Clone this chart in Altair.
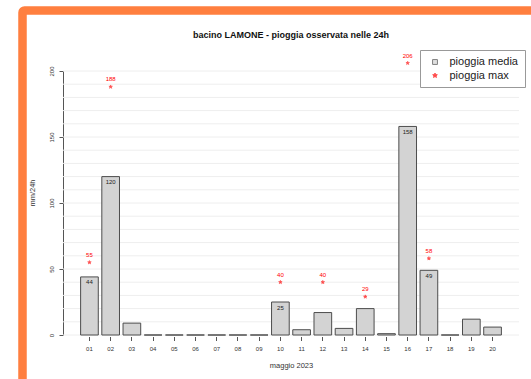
import altair as alt
import pandas as pd

# Daily rainfall for the Lamone basin, May 2023
giorni = ["01", "02", "03", "04", "05", "06", "07", "08", "09", "10",
          "11", "12", "13", "14", "15", "16", "17", "18", "19", "20"]
pioggia_media = [44, 120, 9, 0, 0, 0, 0, 0, 0, 25, 4, 17, 5, 20, 1, 158, 49, 0, 12, 6]
pioggia_max = [55, 188, None, None, None, None, None, None, None, 40,
               None, 40, None, 29, None, 206, 58, None, None, None]
serie = ["pioggia media", "pioggia max"]
y_ticks = [0, 50, 100, 150, 200]
grid_levels = [0, 10, 20, 30, 40, 50, 60, 70, 80, 90, 100, 110, 120, 130, 140,
               150, 160, 170, 180, 190, 200]

FONT = "Liberation Sans"
STAR = ("M0,-1L0.235,-0.324L0.951,-0.309L0.38,0.124L0.588,0.809L0,0.4"
        "L-0.588,0.809L-0.38,0.124L-0.951,-0.309L-0.235,-0.324Z")

df_media = pd.DataFrame({"giorno": giorni, "valore": pioggia_media, "serie": serie[0]})
df_max = pd.DataFrame({"giorno": giorni, "valore": pioggia_max, "serie": serie[1]}).dropna()
df_grid = pd.DataFrame({"valore": grid_levels})

yscale = alt.Scale(domain=[0, 200], nice=False, zero=True)
yaxis = alt.Axis(
    values=y_ticks, grid=False, tickSize=4, tickColor="#555", domainColor="#555",
    labelAngle=270, labelAlign="center", labelBaseline="bottom", labelPadding=5,
    labelFontSize=6, labelColor="#333", labelFont=FONT,
    title="mm/24h", titleFontSize=7.5, titleFontWeight="normal", titleColor="#333",
    titleFont=FONT, titleAngle=270, titleX=-31, titleY=121.5,
    titleBaseline="middle", titleAlign="center",
)
xscale = alt.Scale(paddingInner=0.167, paddingOuter=0.83)
xaxis = alt.Axis(
    domain=False, tickSize=4, tickColor="#555", offset=1.5, labelAngle=0,
    labelFontSize=6, labelColor="#333", labelFont=FONT, labelPadding=4.5,
    title="maggio 2023", titleFontSize=7.5, titleFontWeight="normal",
    titleColor="#333", titleFont=FONT, titlePadding=10,
)


def x_enc():
    return alt.X("giorno:N", scale=xscale, axis=xaxis, sort=giorni)


def y_enc():
    return alt.Y("valore:Q", scale=yscale, axis=yaxis)


legenda = alt.Legend(
    orient="none", legendX=357, legendY=-21, fillColor="white", strokeColor="#999",
    padding=6.5, labelFont=FONT, labelFontSize=11, labelColor="#222",
    symbolSize=24, symbolStrokeWidth=1, labelOffset=9, rowPadding=1.5, symbolOffset=3,
)
colore = alt.Color("serie:N", scale=alt.Scale(domain=serie, range=["#d3d3d3", "#ff0000"]),
                   legend=legenda, title=None)
bordo = alt.Stroke("serie:N", scale=alt.Scale(domain=serie, range=["#4d4d4d", "#ff0000"]),
                   legend=legenda, title=None)
forma = alt.Shape("serie:N", scale=alt.Scale(domain=serie, range=["square", STAR]),
                  legend=legenda, title=None)

# orange frame around the whole figure
cornice = alt.Chart(pd.DataFrame({"k": [0]})).mark_rect(
    filled=False, stroke="#ff7f3f", strokeWidth=8.5, cornerRadius=2
).encode(x=alt.value(-40.5), x2=alt.value(490), y=alt.value(-60.5), y2=alt.value(330))

griglia = alt.Chart(df_grid).mark_rule(color="#eeeeee", strokeWidth=1).encode(y=y_enc())

barre = alt.Chart(df_media).mark_bar(strokeWidth=1).encode(
    x=x_enc(), y=y_enc(), color=colore, stroke=bordo
)

etichette_media = alt.Chart(df_media).transform_filter("datum.valore > 20").mark_text(
    font=FONT, fontSize=6, color="#222", baseline="middle", dy=5.5
).encode(x=x_enc(), y=y_enc(), text="valore:Q")

punti = alt.Chart(df_max).mark_point(filled=True, size=14, strokeWidth=0.6).encode(
    x=x_enc(), y=y_enc(), color=colore, stroke=bordo, shape=forma
)

etichette_max = alt.Chart(df_max).mark_text(
    font=FONT, fontSize=6, color="#ff0000", baseline="middle", dy=-7.5
).encode(x=x_enc(), y=y_enc(), text="valore:Q")

chart = alt.layer(
    cornice, griglia, barre, etichette_media, punti, etichette_max
).properties(
    width=456, height=264,
    padding={"left": 63, "top": 71, "right": 12, "bottom": 44},
    autosize=alt.AutoSizeParams(type="none"),
    background="white",
    title=alt.Title("bacino LAMONE - pioggia osservata nelle 24h", font=FONT,
                    fontSize=9, fontWeight="bold", color="#111", anchor="middle",
                    baseline="bottom", frame="group", offset=32, dy=74.5),
).configure_view(stroke=None)

chart.save("out.html", embed_options={"renderer": "svg", "actions": False})
